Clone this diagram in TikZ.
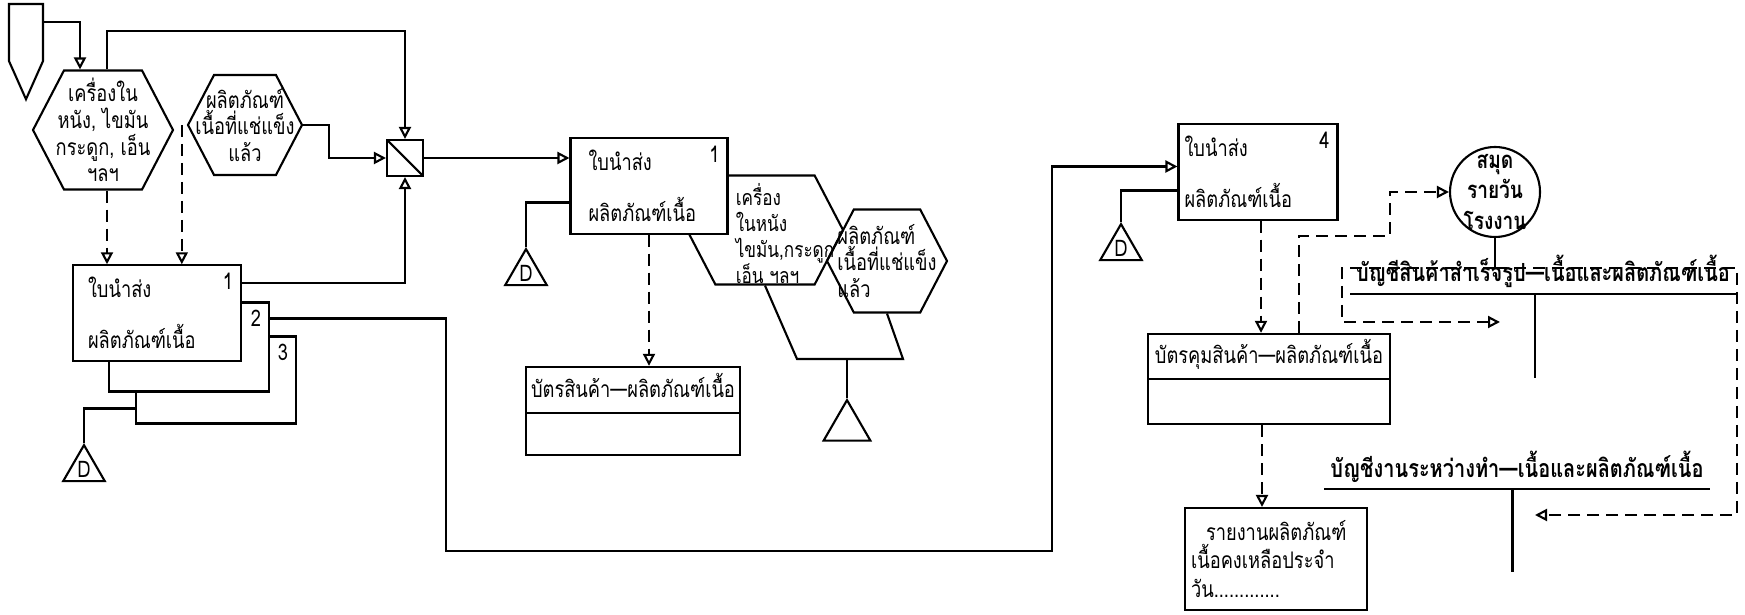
\documentclass[tikz,border=0pt]{standalone}
\usepackage{fontspec}
\setmainfont[Script=Thai,FakeStretch=0.8]{Loma}
\usetikzlibrary{arrows.meta,shapes.geometric,shapes.symbols,shapes.multipart}

\begin{document}
\begin{tikzpicture}[x=0.1mm,y=-0.1mm,line width=0.6pt,
    font=\fontsize{6.5}{7.6}\selectfont,
    flow/.style={-{Triangle[open,length=1.2mm,width=1.2mm]}},
    info/.style={flow,dash pattern=on 1.2mm off 0.7mm},
    hexa/.style={draw,shape=signal,signal to=east and west,signal pointer angle=125,inner sep=0pt},
    txt/.style={align=center,inner sep=0pt},
    docbox/.style={draw,fill=white,minimum height=9mm,inner xsep=1.5mm,align=left},
    num/.style={anchor=north east,inner sep=0.8mm},
    card/.style={draw,rectangle split,rectangle split parts=2,inner sep=0pt,align=center},
    filetri/.style={draw,regular polygon,regular polygon sides=3,minimum size=4.8mm,inner sep=0pt},
    sortbox/.style={draw,fill=white,minimum size=3.6mm,inner sep=0pt,
      path picture={\draw (path picture bounding box.north west) -- (path picture bounding box.south east);}},
    ledger/.style={font=\fontsize{7.1}{8}\selectfont\bfseries,inner sep=0.5mm,anchor=south}]
  \useasboundingbox (0,0) rectangle (1745,615);

  \node[draw,shape=signal,signal to=south,signal pointer angle=48,minimum width=3.4mm,
    minimum height=5.7mm,inner sep=0pt,anchor=north] (opc) at (26,3) {};
  \node[hexa,minimum width=14mm,minimum height=11.9mm,
    label={[txt]center:{เครื่องใน\\หนัง, ไขมัน\\กระดูก, เอ็น\\ฯลฯ}}] (h1) at (103,130) {};
  \node[hexa,minimum width=11.4mm,minimum height=10mm,
    label={[txt]center:{ผลิตภัณฑ์\\เนื้อที่แช่แข็ง\\แล้ว}}] (h2) at (245,125) {};
  \node[sortbox] (srt) at (405,158) {};

  \node[docbox,minimum width=16mm,minimum height=8.7mm,label={[num]north east:3}] (ba3) at (216,380) {};
  \node[docbox,minimum width=16mm,minimum height=8.9mm,label={[num]north east:2}] (ba2) at (189,347) {};
  \node[docbox,text width=13.8mm,minimum height=9.4mm,label={[num]north east:1}] (ba) at (157,313)
    {ใบนำส่ง\\[7pt]ผลิตภัณฑ์เนื้อ};

  \node[hexa,minimum width=15.6mm,minimum height=10.9mm] (h3) at (765,230) {};
  \node[txt,align=left,font=\fontsize{6.1}{7.4}\selectfont] (h3txt) at (785,234) {เครื่อง\\ในหนัง\\ไขมัน,กระดูก\\เอ็น ฯลฯ};
  \node[docbox,text width=12.1mm,inner xsep=1.8mm,minimum height=8.7mm,label={[num]north east:1}] (bb) at (649,186)
    {ใบนำส่ง\\[7pt]ผลิตภัณฑ์เนื้อ};
  \node[hexa,minimum width=12mm,minimum height=10.3mm,
    label={[txt,align=left]center:{ผลิตภัณฑ์\\เนื้อที่แช่แข็ง\\แล้ว}}] (h4) at (887,261) {};
  \node[card,text width=21.4mm] (cc) at (633,411)
    {\rule[-1.4mm]{0pt}{4.4mm}บัตรสินค้า—ผลิตภัณฑ์เนื้อ\nodepart{two}\rule{0pt}{4mm}};

  \node[docbox,text width=14.7mm,inner xsep=0.6mm,minimum height=8.9mm,label={[num]north east:4}] (be) at (1258,172)
    {ใบนำส่ง\\[7pt]ผลิตภัณฑ์เนื้อ};
  \node[card,text width=24.2mm] (cf) at (1269,379)
    {\rule[-1.4mm]{0pt}{4.3mm}บัตรคุมสินค้า—ผลิตภัณฑ์เนื้อ\nodepart{two}\rule{0pt}{4.3mm}};
  \node[draw,minimum width=18.2mm,minimum height=10.2mm,text width=17mm,inner xsep=0.6mm,align=left,
    font=\fontsize{6.5}{8}\selectfont] (rp) at (1276,559)
    {\hspace*{1.5mm}รายงานผลิตภัณฑ์\\เนื้อคงเหลือประจำ\\วัน.............};

  \node[draw,circle,minimum size=9mm,inner sep=0pt,
    label={[txt,font=\fontsize{6.8}{8.8}\selectfont\bfseries]center:{สมุด\\รายวัน\\โรงงาน}}] (book) at (1495,192) {};
  \node[ledger,minimum width=38mm] (lg1) at (1543,294) {บัญชีสินค้าสำเร็จรูป—เนื้อและผลิตภัณฑ์เนื้อ};
  \node[ledger,minimum width=38.1mm] (lg2) at (1517,489) {บัญชีงานระหว่างทำ—เนื้อและผลิตภัณฑ์เนื้อ};

  \foreach \n/\x/\y in {fa/84/443,fb/526/247,fe/1121/222}
    \node[filetri,anchor=north] (\n) at (\x,\y) {D};
  \node[filetri,minimum size=5.4mm,anchor=north] (fc) at (847,398) {};

  \coordinate (m1) at (797,359);
  \coordinate (m2) at (903,359);
  \coordinate (mc) at (847,359);
  \coordinate (loop) at (1052,551);
  \coordinate (jn) at (1495,268);
  \coordinate (lg1in) at (1500,322);
  \coordinate (lg2in) at (1535,515);

  \draw[flow] ([yshift=-1.9mm]opc.north east) -| ([xshift=-2.3mm]h1.north);
  \draw[flow] ([xshift=.4mm]h1.north) -- ++(0,-38) -| (srt.north);
  \draw[flow] (h2.east) -- ++(26,0) |- (srt.west);
  \draw[flow] ([yshift=3mm]ba.east) -| (srt.south);
  \draw[flow] (srt.east) -- (srt.east -| bb.west);
  \draw[info] ([xshift=.4mm]h1.south) -- ([xshift=.4mm]h1.south |- ba.north);
  \draw[info] ([xshift=-.5mm]h2.west) -- ([xshift=-.5mm]h2.west |- ba.north);
  \draw ([yshift=-2.85mm]ba3.west) -| (fa.north);
  \draw[flow] ([yshift=2.85mm]ba2.east) -- ++(176,0) |- (loop) |- ([yshift=.55mm]be.west);

  \draw ([yshift=-1.65mm]bb.west) -| (fb.north);
  \draw[info] (bb.south) -- (bb.south |- cc.north);
  \draw (h3.south) -- (m1) -- (m2) -- (h4.south);
  \draw (mc) -- (fc.north);

  \draw ([yshift=-1.85mm]be.west) -| (fe.north);
  \draw[info] ([xshift=.3mm]be.south) -- ([xshift=.3mm]be.south |- cf.north);
  \draw[info] ([xshift=-.7mm]cf.south) -- ([xshift=-.7mm]cf.south |- rp.north);
  \draw[info] ([xshift=3mm]cf.north) -- ++(0,-97) -- ++(91,0) |- (book.west);
  \draw (book.south) -- (jn);
  \draw[info] (jn) -- ++(-153,0) |- (lg1in);
  \draw[info] (jn) -- ++(242,0) |- (lg2in);
  \draw (lg1.south west) -- (lg1.south east);
  \draw ([xshift=-.8mm]lg1.south) -- ++(0,84);
  \draw (lg2.south west) -- (lg2.south east);
  \draw ([xshift=-.45mm]lg2.south) -- ++(0,83);
\end{tikzpicture}
\end{document}
